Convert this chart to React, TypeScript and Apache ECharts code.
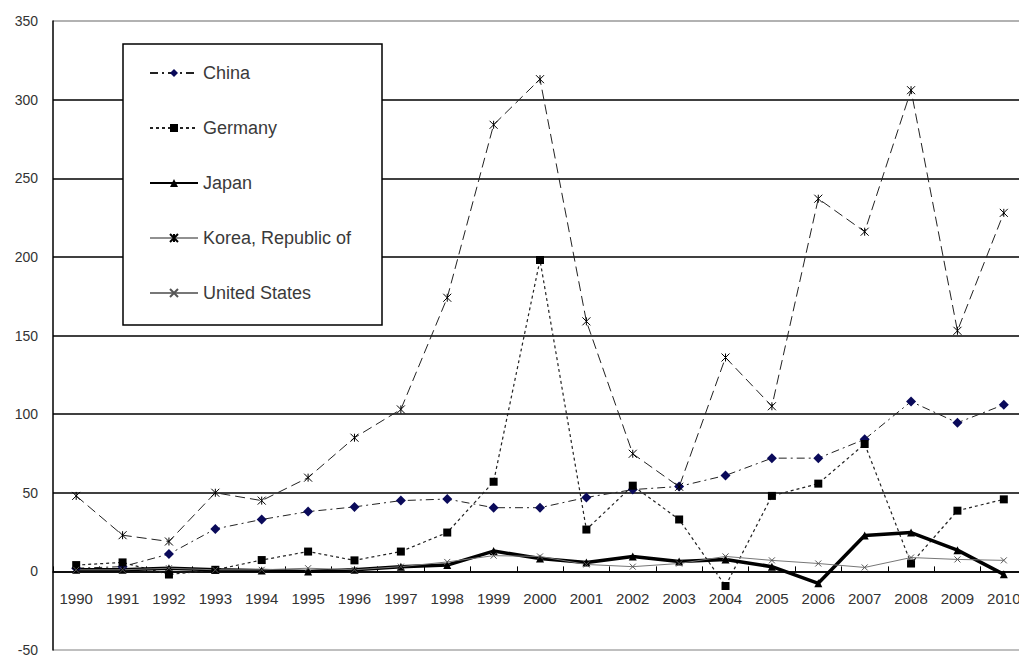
import React, { useEffect, useRef } from "react";
import * as echarts from "echarts";

const years = ["1990","1991","1992","1993","1994","1995","1996","1997","1998","1999","2000","2001","2002","2003","2004","2005","2006","2007","2008","2009","2010"];
const china = [2, 3, 11, 27, 33, 38, 41, 45, 46, 40.5, 40.5, 47, 52, 54, 61, 72, 72, 84, 108, 94.5, 106];
const germany = [4, 5.7, -2, 1, 7.2, 12.6, 7, 12.6, 24.7, 57, 198, 26.6, 54.5, 33, -9.3, 48, 55.8, 81, 5, 38.6, 45.8];
const japan = [1, 1, 2, 1, 0.5, 0, 1, 3, 4, 12.9, 8.2, 5.7, 9.5, 6.3, 7.6, 3, -7.6, 22.8, 24.7, 13.5, -1.9];
const korea = [48, 23, 19, 50, 45, 59.6, 85, 103, 174, 284, 313, 159, 74.8, 53.8, 136, 105, 237, 216, 306, 153, 228];
const usa = [1, 1, 2, 1, 1, 2, 1, 3, 6, 10, 9.5, 4.4, 3, 5, 9.5, 7, 5, 2.5, 8.8, 7.6, 7];
const yMin = -50;
const yMax = 350;
const yStep = 50;

const FONT = "Liberation Sans";

export default function App() {
  const ref = useRef<HTMLDivElement>(null);
  useEffect(() => {
    if (!ref.current) return;
    const chart = echarts.init(ref.current, null, { renderer: "svg" });
    const asterisk = "path://M0 0L10 10M10 0L0 10M5 0L5 10";
    const cross = "path://M0 0L10 10M10 0L0 10";
    const gridTop = 21;
    const gridBottom = 7;
    const plotH = 657 - gridTop - gridBottom;
    const zeroOffset = -((0 - yMin) / (yMax - yMin)) * plotH;
    chart.setOption({
      animation: false,
      backgroundColor: "#ffffff",
      grid: { left: 53, right: -8, top: gridTop, bottom: gridBottom, containLabel: false, outerBoundsMode: "none" },
      graphic: [
        {
          type: "rect",
          z: 3,
          shape: { x: 123, y: 44, width: 259, height: 281 },
          style: { fill: "#ffffff", stroke: "#000000", lineWidth: 1.5 },
        },
      ],
      legend: {
        z: 5,
        orient: "vertical",
        left: 123,
        top: 44,
        padding: [20, 10, 20, 26],
        itemWidth: 48,
        itemHeight: 10,
        itemGap: 37,
        textStyle: { fontFamily: FONT, fontSize: 18, color: "#3a3a3a", lineHeight: 18 },
        data: [
          { name: "China" },
          { name: "Germany" },
          { name: "Japan" },
          { name: "Korea, Republic of", lineStyle: { type: "solid", width: 1, color: "#222222" } },
          { name: "United States" },
        ],
      },
      xAxis: {
        type: "category",
        data: years,
        boundaryGap: true,
        offset: zeroOffset,
        axisLine: { onZero: false, lineStyle: { color: "#000000", width: 1.5 } },
        axisTick: { show: true, inside: true, length: 5, lineStyle: { color: "#000000", width: 1 } },
        axisLabel: { fontFamily: FONT, fontSize: 15, color: "#333333", margin: 20 },
        splitLine: { show: false },
      },
      yAxis: {
        type: "value",
        min: yMin,
        max: yMax,
        interval: yStep,
        axisLine: { show: true, lineStyle: { color: "#000000", width: 1.5 } },
        axisTick: { show: false },
        axisLabel: { fontFamily: FONT, fontSize: 14, color: "#333333", margin: 15 },
        splitLine: {
          show: true,
          lineStyle: {
            color: ["#aaaaaa", "#000000", "#000000", "#000000", "#000000", "#000000", "#000000", "#000000", "#999999"],
            width: 1.5,
          },
        },
      },
      series: [
        {
          name: "China",
          type: "line",
          data: china,
          symbol: "diamond",
          symbolSize: 10,
          itemStyle: { color: "#0a0a5a" },
          lineStyle: { color: "#222222", width: 1, type: [8, 4, 2, 4] },
          z: 4,
        },
        {
          name: "Germany",
          type: "line",
          data: germany,
          symbol: "rect",
          symbolSize: 8,
          itemStyle: { color: "#000000" },
          lineStyle: { color: "#222222", width: 1.2, type: [3, 3] },
          z: 4,
        },
        {
          name: "Japan",
          type: "line",
          data: japan,
          symbol: "triangle",
          symbolSize: 8,
          itemStyle: { color: "#000000" },
          lineStyle: { color: "#000000", width: 3.5 },
          z: 4,
        },
        {
          name: "Korea, Republic of",
          type: "line",
          data: korea,
          symbol: asterisk,
          symbolSize: 8,
          itemStyle: { color: "transparent", borderColor: "#000000", borderWidth: 1 },
          lineStyle: { color: "#222222", width: 1, type: [10, 5] },
          z: 4,
        },
        {
          name: "United States",
          type: "line",
          data: usa,
          symbol: cross,
          symbolSize: 6,
          itemStyle: { color: "transparent", borderColor: "#555555", borderWidth: 1 },
          lineStyle: { color: "#777777", width: 1 },
          z: 4,
        },
      ],
    });
    return () => chart.dispose();
  }, []);
  return (
    <div
      ref={ref}
      style={{ position: "absolute", left: 0, top: 0, width: 1019, height: 657, overflow: "hidden" }}
    />
  );
}
